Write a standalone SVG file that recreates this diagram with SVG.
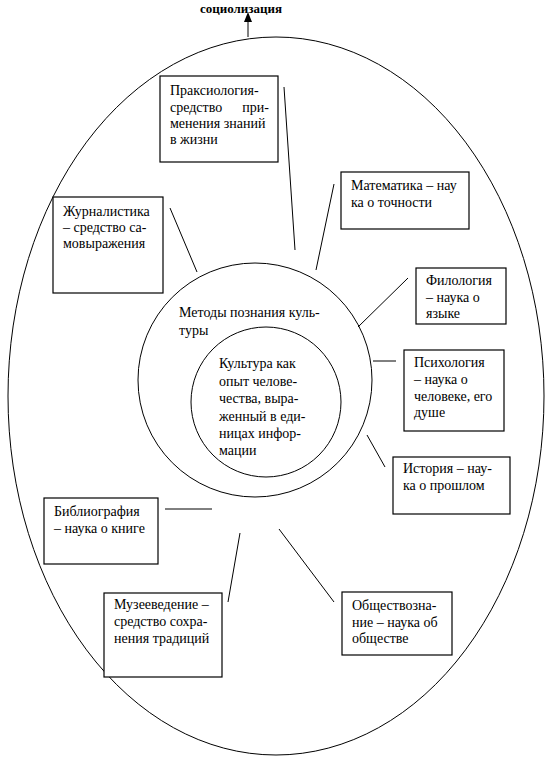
<svg xmlns="http://www.w3.org/2000/svg" width="550" height="763" viewBox="0 0 550 763">
<style>
.t{font-family:"Liberation Serif","Times New Roman",serif;font-size:14px;fill:#000}
.b{fill:#fff;stroke:#000;stroke-width:1.2}
.c{fill:none;stroke:#000;stroke-width:1}
.l{stroke:#000;stroke-width:1;fill:none}
</style>
<rect width="550" height="763" fill="#fff"/>
<g id="outer">
<ellipse class="c" cx="276" cy="396" rx="268" ry="359"/>
</g>
<g id="socialization">
<text class="t" x="241" y="13" text-anchor="middle" style="font-weight:bold;font-size:13px">социолизация</text>
</g>
<g id="connectors">
<line class="l" x1="248" y1="37" x2="248" y2="21"/>
<polygon points="244,22 252,22 248,12" fill="#000"/>
<line class="l" x1="284" y1="87" x2="295" y2="250"/>
<line class="l" x1="170" y1="208" x2="197" y2="272"/>
<line class="l" x1="334" y1="184" x2="316" y2="270"/>
<line class="l" x1="408" y1="278" x2="358" y2="327"/>
<line class="l" x1="373" y1="361" x2="396" y2="361"/>
<line class="l" x1="367" y1="435" x2="385" y2="467"/>
<line class="l" x1="165" y1="509" x2="212" y2="509"/>
<line class="l" x1="240" y1="533" x2="228" y2="602"/>
<line class="l" x1="279" y1="529" x2="334" y2="602"/>
</g>
<g id="methods">
<circle class="c" cx="255" cy="380" r="117"/>
<text class="t" x="179" y="317">Методы познания куль-</text>
<text class="t" x="179" y="335">туры</text>
</g>
<g id="culture">
<circle class="c" cx="266" cy="402" r="75"/>
<text class="t" x="219" y="368">Культура как</text>
<text class="t" x="219" y="386">опыт челове-</text>
<text class="t" x="219" y="403">чества, выра-</text>
<text class="t" x="219" y="421">женный в еди-</text>
<text class="t" x="219" y="438">ницах инфор-</text>
<text class="t" x="219" y="455">мации</text>
</g>
<g id="praxeology">
<rect class="b" x="160" y="76" width="118" height="86"/>
<text class="t" x="170" y="95">Праксиология-</text>
<text class="t" x="170" y="112">средство</text>
<text class="t" x="269" y="112" text-anchor="end">при-</text>
<text class="t" x="170" y="128">менения знаний</text>
<text class="t" x="170" y="144">в жизни</text>
</g>
<g id="journalism">
<rect class="b" x="53" y="197" width="110" height="96"/>
<text class="t" x="63" y="216">Журналистика</text>
<text class="t" x="63" y="232">– средство са-</text>
<text class="t" x="63" y="248">мовыражения</text>
</g>
<g id="mathematics">
<rect class="b" x="341" y="172" width="128" height="57"/>
<text class="t" x="351" y="190">Математика – нау</text>
<text class="t" x="351" y="207">ка о точности</text>
</g>
<g id="philology">
<rect class="b" x="416" y="268" width="90" height="56"/>
<text class="t" x="426" y="285">Филология</text>
<text class="t" x="426" y="302">– наука о</text>
<text class="t" x="426" y="318">языке</text>
</g>
<g id="psychology">
<rect class="b" x="404" y="350" width="100" height="81"/>
<text class="t" x="414" y="367">Психология</text>
<text class="t" x="414" y="384">– наука о</text>
<text class="t" x="414" y="401">человеке, его</text>
<text class="t" x="414" y="417">душе</text>
</g>
<g id="history">
<rect class="b" x="393" y="457" width="117" height="57"/>
<text class="t" x="403" y="473">История – нау-</text>
<text class="t" x="403" y="490">ка о прошлом</text>
</g>
<g id="bibliography">
<rect class="b" x="44" y="498" width="114" height="66"/>
<text class="t" x="54" y="516">Библиография</text>
<text class="t" x="54" y="533">– наука о книге</text>
</g>
<g id="museology">
<rect class="b" x="104" y="593" width="118" height="84"/>
<text class="t" x="114" y="609">Музееведение –</text>
<text class="t" x="114" y="626">средство сохра-</text>
<text class="t" x="114" y="643">нения традиций</text>
</g>
<g id="socialscience">
<rect class="b" x="342" y="592" width="110" height="63"/>
<text class="t" x="352" y="610">Обществозна-</text>
<text class="t" x="352" y="627">ние – наука об</text>
<text class="t" x="352" y="643">обществе</text>
</g>
</svg>
